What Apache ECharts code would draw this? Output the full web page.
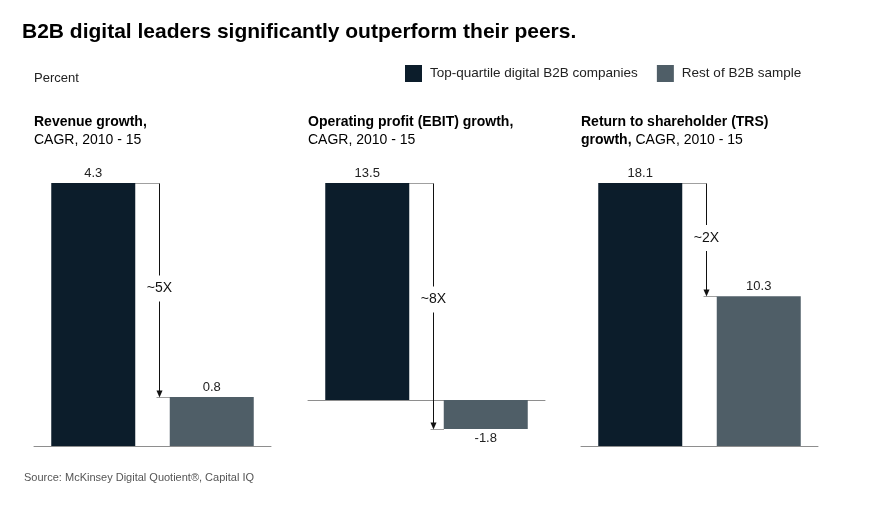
<!DOCTYPE html>
<html><head><meta charset="utf-8">
<script src="https://cdn.jsdelivr.net/npm/echarts@6/dist/echarts.min.js"></script>
<style>html,body{margin:0;padding:0;background:#fff}#c{width:889px;height:505px}</style>
</head><body><div id="c"></div>
<script>
// ---- data ----
const seriesNames = ['Top-quartile digital B2B companies', 'Rest of B2B sample'];
const panelTitleBold = ['Revenue growth,', 'Operating profit (EBIT) growth,', 'Return to shareholder (TRS)\ngrowth,'];
const panelTitleRest = ['CAGR, 2010 - 15', 'CAGR, 2010 - 15', ' CAGR, 2010 - 15'];
const leaderValues = [4.3, 13.5, 18.1];
const restValues = [0.8, -1.8, 10.3];
const multipleLabels = ['~5X', '~8X', '~2X'];
const categories = ['Top quartile', 'Rest'];

// ---- layout / style ----
const FONT = '"Liberation Sans", Arial, sans-serif';
const DARK = '#0c1d2b';
const GRAY = '#4f5e67';
const gridLefts = [34, 308, 581];
const gridWidth = 237;
const gridTop = 183;
const zeroY = 446;
const barW = 84;

const chart = echarts.init(document.getElementById('c'));

const grids = [], xAxes = [], yAxes = [], series = [], titles = [];

titles.push({ text: 'B2B digital leaders significantly outperform their peers.', left: 17, top: 17,
  textStyle: { fontFamily: FONT, fontSize: 21, fontWeight: 'bold', color: '#000' } });
titles.push({ text: 'Percent', left: 29, top: 67, textStyle: { fontFamily: FONT, fontSize: 13, fontWeight: 'normal', color: '#222' } });
titles.push({ text: 'Source: McKinsey Digital Quotient®, Capital IQ', left: 19, top: 467,
  textStyle: { fontFamily: FONT, fontSize: 11, fontWeight: 'normal', color: '#555' } });

leaderValues.forEach((lv, i) => {
  const rv = restValues[i];
  const minV = Math.min(0, lv, rv), maxV = Math.max(0, lv, rv);
  let bottom;
  if (minV < 0) {
    bottom = 505 - 429;
  } else {
    bottom = 505 - zeroY;
  }
  grids.push({ left: gridLefts[i], width: gridWidth, top: gridTop, bottom: bottom });
  xAxes.push({ type: 'category', gridIndex: i, data: categories, boundaryGap: true,
    axisLine: { show: true, onZero: true, lineStyle: { color: '#8e8e8e', width: 1 } },
    axisTick: { show: false }, axisLabel: { show: false }, splitLine: { show: false } });
  yAxes.push({ type: 'value', gridIndex: i, min: minV, max: maxV, show: false, splitLine: { show: false } });

  const labelCfg = { show: true, fontFamily: FONT, fontSize: 13, color: '#222', distance: 3,
    formatter: p => p.value.toFixed(1) };
  const mk = (v) => ({ value: v, label: { position: v < 0 ? 'bottom' : 'top' } });
  series.push({ type: 'bar', name: seriesNames[0], xAxisIndex: i, yAxisIndex: i, barWidth: barW, barGap: '-100%',
    itemStyle: { color: DARK }, label: labelCfg, data: [mk(lv), '-'], animation: false });
  series.push({ type: 'bar', name: seriesNames[1], xAxisIndex: i, yAxisIndex: i, barWidth: barW, barGap: '-100%',
    itemStyle: { color: GRAY }, label: labelCfg, data: ['-', mk(rv)], animation: false });
  series.push({ type: 'custom', xAxisIndex: i, yAxisIndex: i, clip: false, animation: false, silent: true,
    data: [[0, lv]],
    renderItem: function (params, api) {
      const p0 = api.coord([0, lv]);
      const p1 = api.coord([1, rv]);
      const darkRight = Math.round(p0[0] + barW / 2);
      const grayLeft = Math.round(p1[0] - barW / 2);
      const ax = darkRight + 24 + 0.5;
      const y0 = Math.round(p0[1]) + 0.5, y1 = Math.round(p1[1]) + 0.5;
      const mid = (y0 + y1) / 2 - (rv < 0 ? 7 : 2);
      return { type: 'group', children: [
        { type: 'line', shape: { x1: darkRight, y1: y0, x2: ax, y2: y0 }, style: { stroke: '#a0a0a0', lineWidth: 1 } },
        { type: 'line', shape: { x1: ax - 3, y1: y1, x2: grayLeft, y2: y1 }, style: { stroke: '#a0a0a0', lineWidth: 1 } },
        { type: 'line', shape: { x1: ax, y1: y0, x2: ax, y2: y1 - 5 }, style: { stroke: '#111', lineWidth: 1 } },
        { type: 'polygon', shape: { points: [[ax - 3, y1 - 7], [ax + 3, y1 - 7], [ax, y1]] }, style: { fill: '#111' } },
        { type: 'text', x: ax, y: mid, style: { text: multipleLabels[i], align: 'center', verticalAlign: 'middle',
          fill: '#111', font: '14px ' + FONT, backgroundColor: '#fff', padding: [6, 1] } }
      ] };
    } });

  const boldLines = panelTitleBold[i].split('\n');
  let txt;
  if (boldLines.length === 1) {
    txt = '{b|' + boldLines[0] + '}\n{n|' + panelTitleRest[i] + '}';
  } else {
    txt = '{b|' + boldLines[0] + '}\n{b|' + boldLines[1] + '}{n|' + panelTitleRest[i] + '}';
  }
  titles.push({ text: txt, left: gridLefts[i] - 5, top: 108,
    textStyle: { rich: {
      b: { fontFamily: FONT, fontSize: 14, fontWeight: 'bold', color: '#000', lineHeight: 18 },
      n: { fontFamily: FONT, fontSize: 14, fontWeight: 'normal', color: '#000', lineHeight: 18 } } } });
});

chart.setOption({
  animation: false,
  backgroundColor: '#fff',
  title: titles,
  legend: { data: seriesNames, left: 400, top: 60, itemWidth: 17, itemHeight: 17, itemGap: 19,
    icon: 'rect', selectedMode: false,
    textStyle: { fontFamily: FONT, fontSize: 13.5, color: '#222', padding: [0, 0, 0, 3] } },
  grid: grids, xAxis: xAxes, yAxis: yAxes, series: series
});
</script></body></html>
